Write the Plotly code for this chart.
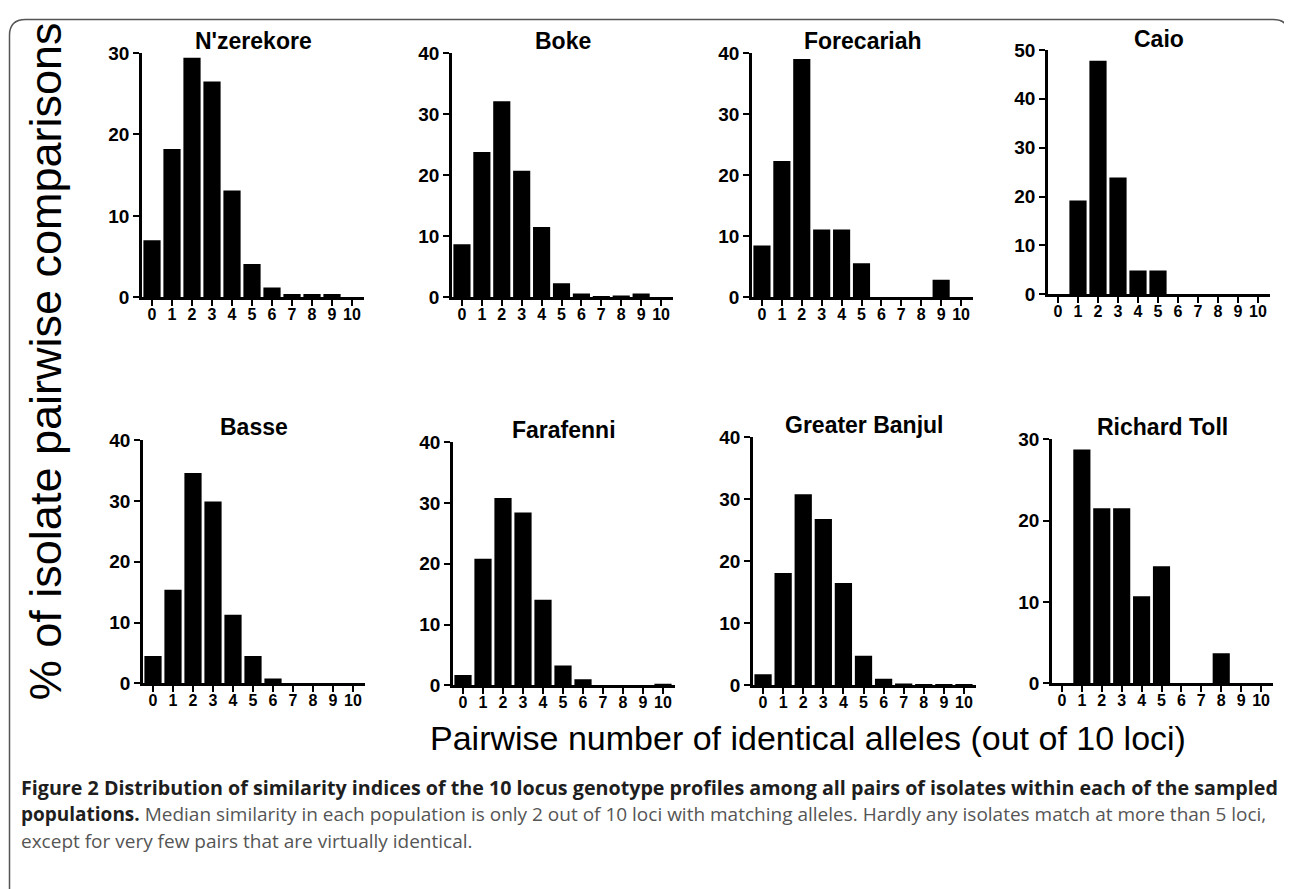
import plotly.graph_objects as go

W, H = 1292, 889

# ---------------- data ----------------
categories = list(range(11))
tick_labels = [str(c) for c in categories]

panel_titles = ["N'zerekore", "Boke", "Forecariah", "Caio",
                "Basse", "Farafenni", "Greater Banjul", "Richard Toll"]

nzerekore = [7.0, 18.2, 29.4, 26.5, 13.1, 4.1, 1.2, 0.4, 0.4, 0.4, 0]
boke = [8.7, 23.8, 32.1, 20.7, 11.5, 2.3, 0.65, 0.1, 0.3, 0.65, 0]
forecariah = [8.5, 22.3, 39.0, 11.1, 11.1, 5.6, 0, 0, 0, 2.9, 0]
caio = [0, 19.2, 47.8, 23.9, 4.9, 4.9, 0, 0, 0, 0, 0]
basse = [4.5, 15.4, 34.6, 29.9, 11.3, 4.5, 0.8, 0, 0, 0, 0]
farafenni = [1.7, 20.8, 30.8, 28.4, 14.1, 3.3, 1.0, 0, 0, 0, 0.3]
greater_banjul = [1.8, 18.1, 30.8, 26.8, 16.5, 4.8, 1.1, 0.3, 0.25, 0.25, 0.1]
richard_toll = [0, 28.7, 21.5, 21.5, 10.7, 14.4, 0, 0, 3.7, 0, 0]

series = [nzerekore, boke, forecariah, caio, basse, farafenni, greater_banjul, richard_toll]
y_max = [30, 40, 40, 50, 40, 40, 40, 30]

y_label = "% of isolate pairwise comparisons"
x_label = "Pairwise number of identical alleles (out of 10 loci)"
caption_1 = "<b>Figure 2 Distribution of similarity indices of the 10 locus genotype profiles among all pairs of isolates within each of the sampled</b>"
caption_2 = ("<b>populations.</b> <span style='color:#555555'>Median similarity in each population is only 2 out of 10 loci "
             "with matching alleles. Hardly any isolates match at more than 5 loci,</span>")
caption_3 = "<span style='color:#555555'>except for very few pairs that are virtually identical.</span>"

# ---------------- layout (screen pixel boxes: left, right, top, bottom) ----------------
boxes = [
    (142, 364, 52, 297), (452, 673, 52, 297), (752, 973, 52, 297), (1048, 1270, 49, 294),
    (143, 365, 440, 684), (453, 675, 442, 686), (753, 976, 437, 686), (1052, 1273, 439, 684),
]
title_y = [40, 40, 40, 38, 427, 430, 425, 427]

# the page places the paper at (8, 17) with an effective 1292 x 870 area
OX, OY, PW, PH = 8, 17, 1292, 870

def fx(px):
    return (px - OX) / PW

def fy(py):
    return 1 - (py - OY) / PH

fig = go.Figure()
annotations = []

xtick_font = dict(family="Liberation Sans, Arial", size=16, color="black", weight="bold")
ytick_font = dict(family="Liberation Sans, Arial", size=19, color="black", weight="bold")

for i, (vals, ttl, ym, box) in enumerate(zip(series, panel_titles, y_max, boxes)):
    n = i + 1
    xa = "x" if n == 1 else f"x{n}"
    ya = "y" if n == 1 else f"y{n}"
    fig.add_trace(go.Bar(x=categories, y=vals, xaxis=xa, yaxis=ya,
                         marker=dict(color="black", line=dict(width=0)),
                         width=0.86, showlegend=False))
    l, r, t, b = box
    xkey = "xaxis" if n == 1 else f"xaxis{n}"
    ykey = "yaxis" if n == 1 else f"yaxis{n}"
    fig.layout[xkey] = dict(
        domain=[fx(l), fx(r)], anchor=ya, range=[-0.5, 10.6],
        tickmode="array", tickvals=categories, ticktext=tick_labels,
        showline=True, linecolor="black", linewidth=2.6,
        ticks="outside", ticklen=6, tickwidth=2.4, tickcolor="black",
        tickangle=0, showgrid=False, zeroline=False, ticklabelstandoff=-5,
        tickfont=xtick_font, fixedrange=True,
    )
    fig.layout[ykey] = dict(
        domain=[fy(b), fy(t)], anchor=xa, range=[0, ym],
        tickmode="linear", tick0=0, dtick=10,
        showline=True, linecolor="black", linewidth=2.6,
        ticks="outside", ticklen=6, tickwidth=2.4, tickcolor="black",
        showgrid=False, zeroline=False,
        tickfont=ytick_font, fixedrange=True,
    )
    annotations.append(dict(
        x=fx((l + r) / 2), y=fy(title_y[i]), xref="paper", yref="paper",
        text=f"<b>{ttl}</b>", showarrow=False, xanchor="center", yanchor="middle",
        font=dict(family="Liberation Sans, Arial", size=23, color="black"),
    ))

annotations.append(dict(
    x=fx(45), y=fy(361), xref="paper", yref="paper", text=y_label, textangle=-90,
    showarrow=False, xanchor="center", yanchor="middle",
    font=dict(family="Liberation Sans, Arial", size=45, color="black"),
))
annotations.append(dict(
    x=fx(808), y=fy(739), xref="paper", yref="paper", text=x_label,
    showarrow=False, xanchor="center", yanchor="middle",
    font=dict(family="Liberation Sans, Arial", size=34, color="black"),
))
for txt, py, sz in [(caption_1, 788, 19.7), (caption_2, 815, 19), (caption_3, 842, 19)]:
    annotations.append(dict(
        x=fx(19), y=fy(py), xref="paper", yref="paper", text=txt,
        showarrow=False, xanchor="left", yanchor="middle",
        font=dict(family="Open Sans, Noto Sans, sans-serif", size=sz, color="#1e1e1e"),
    ))

# rounded border around the figure (clamped to the drawable area)
x0, x1, yt = fx(9.5), fx(1289), fy(18.5)
rx, ry = 16 / PW, 16 / PH
border = (f"M {x0},{fy(900)} L {x0},{yt - ry} Q {x0},{yt} {x0 + rx},{yt} "
          f"L {x1 - rx},{yt} Q {x1},{yt} {x1},{yt - ry} L {x1},{fy(900)}")

fig.update_layout(
    width=W, height=H, margin=dict(l=0, r=0, t=0, b=0),
    paper_bgcolor="white", plot_bgcolor="white",
    annotations=annotations,
    shapes=[dict(type="path", path=border, xref="paper", yref="paper",
                 line=dict(color="#555555", width=1.5))],
)

fig.write_html("out.html")
